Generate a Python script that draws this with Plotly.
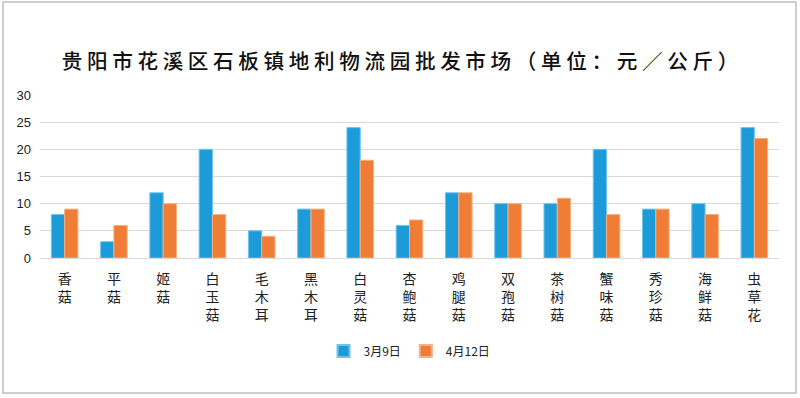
import plotly.graph_objects as go

categories = ["香菇", "平菇", "姬菇", "白玉菇", "毛木耳", "黑木耳", "白灵菇", "杏鲍菇",
              "鸡腿菇", "双孢菇", "茶树菇", "蟹味菇", "秀珍菇", "海鲜菇", "虫草花"]
series_names = ["3月9日", "4月12日"]
march9 = [8, 3, 12, 20, 5, 9, 24, 6, 12, 10, 10, 20, 9, 10, 24]
april12 = [9, 6, 10, 8, 4, 9, 18, 7, 12, 10, 11, 8, 9, 8, 22]
title_text = "贵阳市花溪区石板镇地利物流园批发市场（单位：元／公斤）"

tick_text = ["<br>".join(list(c)) for c in categories]

fig = go.Figure()
fig.add_trace(go.Bar(x=categories, y=march9, name=series_names[0],
                     marker=dict(color="#1c9bd8", line=dict(color="#6cc3ee", width=1))))
fig.add_trace(go.Bar(x=categories, y=april12, name=series_names[1],
                     marker=dict(color="#ef7d36", line=dict(color="#f6b084", width=1))))

L, R, T, B = 40, 21, 95, 140
W, H = 800, 398
pw, ph = W - L - R, H - T - B

fig.update_layout(
    width=W, height=H,
    margin=dict(l=L, r=R, t=T, b=B),
    paper_bgcolor="white", plot_bgcolor="white",
    barmode="group", bargap=0.46, bargroupgap=0,
    title=dict(text=" ".join(list(title_text)), x=0.5, xanchor="center", y=1 - 62 / H, yanchor="middle",
               font=dict(family="Noto Sans CJK SC", size=20.6, color="#111111", weight=500)),
    font=dict(family="Noto Sans CJK SC", color="#222222"),
    legend=dict(orientation="h", x=0.5, xanchor="center", y=(258 - 351) / ph, yanchor="middle",
                font=dict(family="Noto Sans CJK SC", size=12, color="#222222"),
                itemwidth=30, itemsizing="constant", traceorder="normal"),
    xaxis=dict(tickmode="array", tickvals=categories, ticktext=tick_text,
               tickfont=dict(family="Noto Sans CJK SC", size=14, color="#222222"),
               showline=False, ticks="", showgrid=False, ticklabelstandoff=11),
    yaxis=dict(range=[0, 30], dtick=5, showgrid=True, gridcolor="#d9d9d9", gridwidth=1,
               zeroline=True, zerolinecolor="#d9d9d9", zerolinewidth=1,
               tickfont=dict(family="Liberation Sans", size=13, color="#222222"),
               ticks="", ticklabelstandoff=8),
    shapes=[dict(type="rect", xref="paper", yref="paper",
                 x0=(3 - L) / pw, x1=(796 - L) / pw, y0=(258 - 393) / ph, y1=(258 - 2) / ph,
                 line=dict(color="#bfbfbf", width=1.5), fillcolor="rgba(0,0,0,0)", layer="below")],
)

fig.write_html("out.html", config={"displayModeBar": False},
               post_script="document.body.style.margin='0';")
